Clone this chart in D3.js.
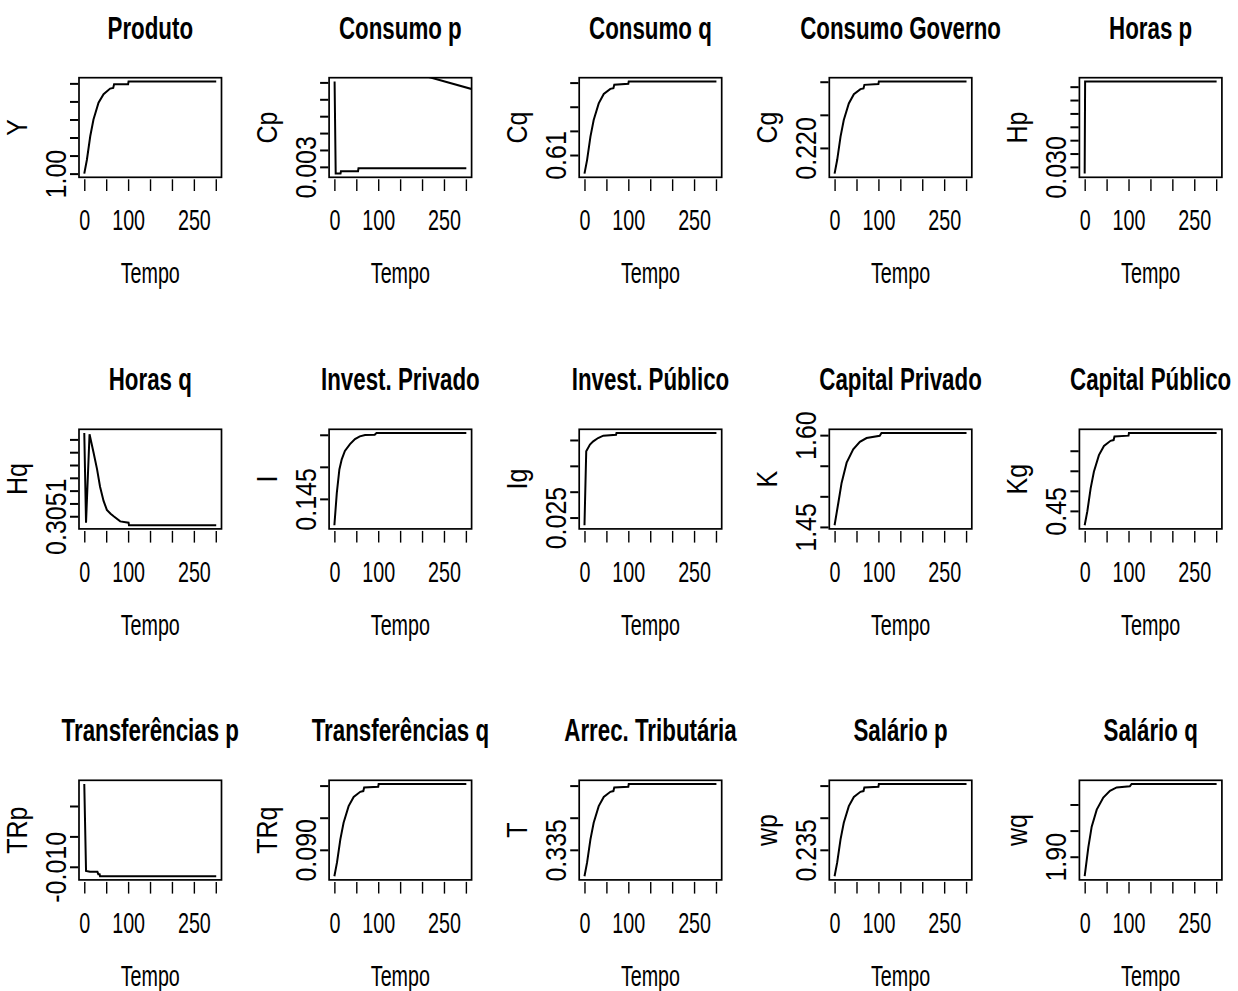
<!DOCTYPE html>
<html>
<head>
<meta charset="utf-8">
<script src="https://cdn.jsdelivr.net/npm/d3@7"></script>
<style>
  body { margin: 0; background: #fff; }
</style>
</head>
<body>
<svg id="chart"></svg>
<script>
// painéis (ordem de leitura: linha a linha)
const titulos = ["Produto", "Consumo p", "Consumo q", "Consumo Governo", "Horas p",
  "Horas q", "Invest. Privado", "Invest. Público", "Capital Privado", "Capital Público",
  "Transferências p", "Transferências q", "Arrec. Tributária", "Salário p", "Salário q"];
const rotulosY = ["Y", "Cp", "Cq", "Cg", "Hp", "Hq", "I", "Ig", "K", "Kg", "TRp", "TRq", "T", "wp", "wq"];

const ticksTempo = [0, 50, 100, 150, 200, 250, 300];
const rotulosTempo = ["0", "", "100", "", "", "250", ""];
const tempoMax = 301;

// séries
const tempoSub = [0, 6, 13.6, 21, 32.5, 44, 59, 66, 68, 100, 101, 301];
const vProduto = [1.000, 1.0077, 1.0207, 1.030, 1.0393, 1.044, 1.0471, 1.0475, 1.0495, 1.0495, 1.0511, 1.0511];

const tCp = [0.5, 3, 14, 15, 54, 55, 301];
const vCp = [0.00806, 0.00260, 0.00260, 0.00274, 0.00274, 0.00292, 0.00292];
const tCpExtra = [200, 320];
const vCpExtra = [0.00843, 0.00756];

const vCq = [0.6023, 0.6080, 0.6176, 0.6245, 0.6314, 0.6353, 0.6374, 0.6377, 0.6391, 0.6395, 0.6405, 0.6405];
const vCg = [0.21612, 0.21821, 0.22170, 0.22421, 0.22672, 0.22811, 0.22888, 0.22899, 0.22953, 0.22966, 0.23005, 0.23005];

const tHp = [0, 1, 301];
const vHp = [0.0290, 0.04279, 0.04279];

const tHq = [0, 4, 12, 21, 29, 36, 44, 51.5, 60, 67, 82, 101, 102, 301];
const vHq = [0.30575, 0.30505, 0.30574, 0.30560, 0.30547, 0.30533, 0.30522, 0.30515, 0.30512, 0.30510, 0.30506, 0.30505, 0.30503, 0.30503];

const tI = [0, 5.5, 11.4, 16.8, 24, 35.6, 47, 58, 70, 92, 96, 301];
const vI = [0.14089, 0.1459, 0.14959, 0.15117, 0.15248, 0.15354, 0.15434, 0.15476, 0.15497, 0.15502, 0.15528, 0.15528];

const tIg = [0, 4, 12.5, 20, 31, 43, 72, 73, 301];
const vIg = [0.02352, 0.03781, 0.0391, 0.03973, 0.04038, 0.04083, 0.04102, 0.04135, 0.04135];

const tK = [0, 8.4, 16, 27.5, 42.5, 57.7, 73, 103, 107, 301];
const vK = [1.4528, 1.4887, 1.5219, 1.555, 1.577, 1.589, 1.5952, 1.599, 1.6035, 1.6035];

const vKg = [0.44285, 0.44975, 0.46125, 0.46953, 0.47781, 0.48241, 0.48494, 0.48531, 0.48710, 0.48752, 0.48885, 0.48885];

const tTRp = [0, 4, 13, 30, 32, 35, 36, 301];
const vTRp = [0.00362, -0.01067, -0.01083, -0.01083, -0.01122, -0.01122, -0.01155, -0.01155];

const vTRq = [0.08589, 0.08804, 0.09163, 0.09422, 0.09680, 0.09824, 0.09903, 0.09915, 0.09970, 0.09983, 0.10025, 0.10025];
const vT = [0.33089, 0.33304, 0.33663, 0.33922, 0.34180, 0.34324, 0.34403, 0.34415, 0.34470, 0.34483, 0.34525, 0.34525];
const vWp = [0.23089, 0.23304, 0.23663, 0.23922, 0.24180, 0.24324, 0.24403, 0.24415, 0.24470, 0.24483, 0.24525, 0.24525];

const tWq = [0, 8.4, 16, 27.5, 42.5, 57.7, 73, 103, 107, 301];
const vWq = [1.8627, 1.9182, 1.9575, 1.9902, 2.0131, 2.0261, 2.0327, 2.0347, 2.0392, 2.0392];

const series = [
  [tempoSub, vProduto], [tCp, vCp], [tempoSub, vCq], [tempoSub, vCg], [tHp, vHp],
  [tHq, vHq], [tI, vI], [tIg, vIg], [tK, vK], [tempoSub, vKg],
  [tTRp, vTRp], [tempoSub, vTRq], [tempoSub, vT], [tempoSub, vWp], [tWq, vWq]
];
const extras = { 1: [tCpExtra, vCpExtra] };

// marcas do eixo y e rótulos visíveis
const ticksY = [
  [1.00, 1.01, 1.02, 1.03, 1.04, 1.05],
  [0.003, 0.004, 0.005, 0.006, 0.007, 0.008],
  [0.61, 0.62, 0.63, 0.64],
  [0.220, 0.225, 0.230],
  [0.030, 0.032, 0.034, 0.036, 0.038, 0.040, 0.042],
  [0.3051, 0.3052, 0.3053, 0.3054, 0.3055, 0.3056, 0.3057],
  [0.145, 0.150, 0.155],
  [0.025, 0.030, 0.035, 0.040],
  [1.45, 1.50, 1.55, 1.60],
  [0.45, 0.46, 0.47, 0.48],
  [-0.010, -0.005, 0.000],
  [0.090, 0.095, 0.100],
  [0.335, 0.340, 0.345],
  [0.235, 0.240, 0.245],
  [1.90, 1.95, 2.00]
];
const rotulosTicksY = [
  ["1.00"], ["0.003"], ["0.61"], ["0.220"], ["0.030"],
  ["0.3051"], ["0.145"], ["0.025"], ["1.45", "", "", "1.60"], ["0.45"],
  ["-0.010"], ["0.090"], ["0.335"], ["0.235"], ["1.90"]
];

const W = 1238, H = 991;
const colX = 79, colStep = 250.1;
const rowY = [77.7, 429.3, 780.3];
const boxW = 142.5, boxH = 99.6;
const fonte = "'Liberation Sans', Arial, Helvetica, sans-serif";
const aperto = 0.68;
const girado = "rotate(-90) scale(1,1.18)";

const svg = d3.select("#chart").attr("width", W).attr("height", H)
  .style("font-family", fonte);

// margem de 4% como no R
function pad(ext) {
  const r = ext[1] - ext[0];
  return [ext[0] - 0.04 * r, ext[1] + 0.04 * r];
}

titulos.forEach((titulo, i) => {
  const col = i % 5, row = Math.floor(i / 5);
  const x0 = colX + col * colStep, y0 = rowY[row];
  const [tt, vv] = series[i];

  const x = d3.scaleLinear().domain(pad([0, tempoMax])).range([x0, x0 + boxW]);
  const y = d3.scaleLinear().domain(pad(d3.extent(vv))).range([y0 + boxH, y0]);

  const g = svg.append("g");

  g.append("clipPath").attr("id", "clip" + i)
    .append("rect")
    .attr("x", x0).attr("y", y0).attr("width", boxW).attr("height", boxH);

  const linha = d3.line().x(d => x(d[0])).y(d => y(d[1]));

  g.append("path")
    .datum(d3.zip(tt, vv))
    .attr("clip-path", `url(#clip${i})`)
    .attr("d", linha)
    .attr("fill", "none").attr("stroke", "#000").attr("stroke-width", 2);

  if (extras[i]) {
    g.append("path")
      .datum(d3.zip(extras[i][0], extras[i][1]))
      .attr("clip-path", `url(#clip${i})`)
      .attr("d", linha)
      .attr("fill", "none").attr("stroke", "#000").attr("stroke-width", 2);
  }

  g.append("rect")
    .attr("x", x0).attr("y", y0).attr("width", boxW).attr("height", boxH)
    .attr("fill", "none").attr("stroke", "#000").attr("stroke-width", 1.7);

  // eixo y
  const eixoY = g.append("g")
    .attr("transform", `translate(${x0 - 0.7},0)`)
    .call(d3.axisLeft(y).tickValues(ticksY[i]).tickSize(8.3)
      .tickFormat((d, k) => rotulosTicksY[i][k] || ""));
  eixoY.select(".domain").remove();
  eixoY.attr("font-family", fonte).attr("font-size", 25);
  eixoY.selectAll("line").attr("stroke-width", 2);
  eixoY.selectAll("text")
    .attr("x", null).attr("dy", null)
    .attr("fill", "#000")
    .attr("text-anchor", "middle")
    .attr("transform", `translate(-12.3,0) ${girado}`);

  // eixo x
  const eixoX = g.append("g")
    .attr("transform", `translate(0,${y0 + boxH + 2})`)
    .call(d3.axisBottom(x).tickValues(ticksTempo).tickSize(11.7)
      .tickFormat((d, k) => rotulosTempo[k]));
  eixoX.select(".domain").remove();
  eixoX.attr("font-family", fonte).attr("font-size", 29);
  eixoX.selectAll("line").attr("stroke-width", 1.4);
  eixoX.selectAll("text")
    .attr("y", null).attr("dy", null)
    .attr("fill", "#000")
    .attr("transform", `translate(0,51) scale(${aperto},1)`);

  // títulos
  g.append("text")
    .attr("transform", `translate(${x0 + boxW / 2},${y0 - 39}) scale(0.72,1)`)
    .attr("text-anchor", "middle")
    .attr("font-weight", "bold")
    .attr("font-size", 31)
    .text(titulo);

  g.append("text")
    .attr("transform", `translate(${x0 + boxW / 2},${y0 + boxH + 106}) scale(${aperto},1)`)
    .attr("text-anchor", "middle")
    .attr("font-size", 29)
    .text("Tempo");

  g.append("text")
    .attr("transform", `translate(${x0 - 52},${y0 + boxH / 2}) ${girado}`)
    .attr("text-anchor", "middle")
    .attr("font-size", 25)
    .text(rotulosY[i]);
});
</script>
</body>
</html>
